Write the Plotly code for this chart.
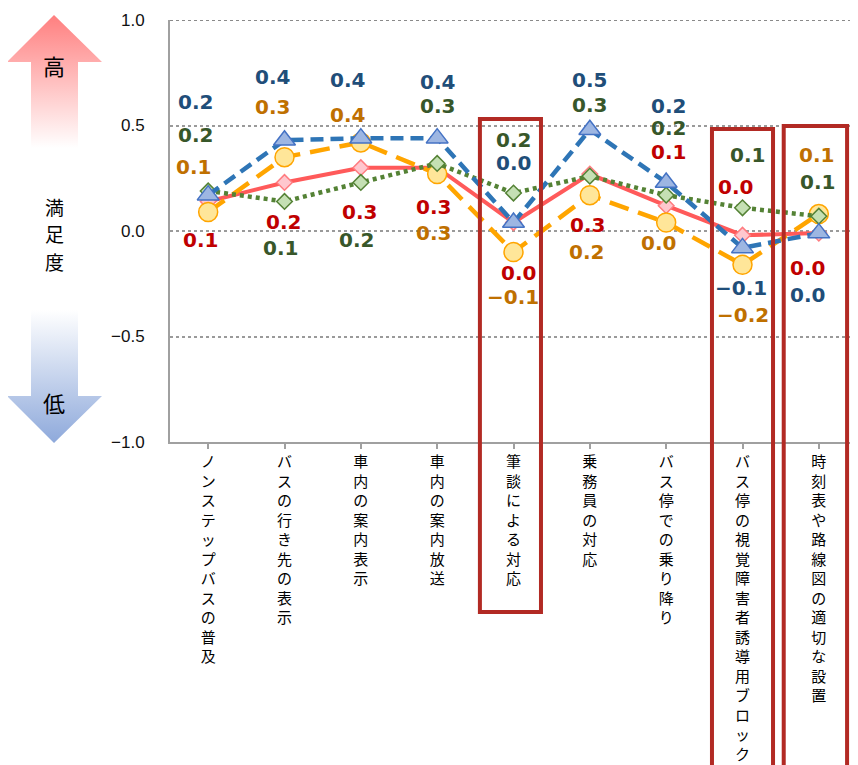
import plotly.graph_objects as go

# ---------------- data ----------------
categories = ["ノンステップバスの普及", "バスの行き先の表示", "車内の案内表示", "車内の案内放送",
              "筆談による対応", "乗務員の対応", "バス停での乗り降り",
              "バス停の視覚障害者誘導用ブロック", "時刻表や路線図の適切な設置"]
red_vals = [0.14, 0.23, 0.30, 0.30, 0.04, 0.27, 0.12, -0.02, -0.01]
blue_vals = [0.17, 0.43, 0.44, 0.44, 0.04, 0.48, 0.23, -0.08, -0.01]
orange_vals = [0.09, 0.35, 0.42, 0.27, -0.10, 0.17, 0.04, -0.16, 0.08]
green_vals = [0.19, 0.14, 0.23, 0.32, 0.18, 0.26, 0.17, 0.11, 0.07]
y_ticks = [-1.0, -0.5, 0.0, 0.5, 1.0]
highlighted = [4, 7, 8]

# ---------------- label placement (pixel offsets from each point) ----------------
red_lab_dx = [-8, -1, -1, -4, 5, -2, 2, -7, -11]
red_lab_dy = [39, 40, 44, 39, 50, 51, -54, -48, 35]
blue_lab_dx = [-13, -12, -13, 0, 0, 0, 2, -2, -11]
blue_lab_dy = [-93, -63, -58, -56, -60, -50, -76, 40, 62]
orange_lab_dx = [-15, -12, -13, -4, -1, -3, -8, 0, -2]
orange_lab_dy = [-45, -50, -27, 59, 45, 57, 20, 50, -59]
green_lab_dx = [-13, -4, -4, 0, 0, 0, 2, 5, -1]
green_lab_dy = [-56, 47, 58, -57, -53, -71, -67, -53, -34]

# window size and page offset (browser body margin)
WIN_W, WIN_H, OFF = 858, 765, 8
W, H = WIN_W - OFF, WIN_H - OFF
PLOT_L, PLOT_R, PLOT_T, PLOT_B = 170, 857, 20, 442   # window pixels


def px_x(x):
    return (x - OFF) / W


def px_y(y):
    return (WIN_H - y) / H


def fmt(v):
    s = f"{v:.1f}"
    if s == "-0.0":
        s = "0.0"
    return s.replace("-", "\u2212")


fig = go.Figure()

series = [
    dict(vals=red_vals, line=dict(color="#FF5A5A", width=4), dash="solid",
         marker=dict(symbol="diamond", size=12, color="#FFC7CE", line=dict(color="#FF7C80", width=1.5)),
         text_color="#C00000", dx=red_lab_dx, dy=red_lab_dy),
    dict(vals=orange_vals, line=dict(color="#FFA500", width=4.5), dash="20px,10px",
         marker=dict(symbol="circle", size=19, color="#FFE699", line=dict(color="#FFA500", width=1.5)),
         text_color="#BF7000", dx=orange_lab_dx, dy=orange_lab_dy),
    dict(vals=green_vals, line=dict(color="#548235", width=4.5), dash="4px,4px",
         marker=dict(symbol="diamond", size=12, color="#C5E0B4", line=dict(color="#548235", width=1.5)),
         text_color="#38572A", dx=green_lab_dx, dy=green_lab_dy),
    dict(vals=blue_vals, line=dict(color="#2E75B6", width=4.5), dash="13px,7px",
         marker=dict(symbol="triangle-up", size=19, color="#9DB6E2", line=dict(color="#4472C4", width=1.5)),
         text_color="#1F4E79", dx=blue_lab_dx, dy=blue_lab_dy),
]

x_idx = list(range(len(categories)))

for s in series:
    ln = dict(s["line"])
    ln["dash"] = s["dash"]
    fig.add_trace(go.Scatter(
        x=x_idx, y=s["vals"], mode="lines+markers",
        line=ln, marker=s["marker"], showlegend=False, hoverinfo="skip",
        cliponaxis=False,
    ))

annotations = []
for s in series:
    for i, v in enumerate(s["vals"]):
        annotations.append(dict(
            x=i, y=v, xref="x", yref="y", text=fmt(v), showarrow=False,
            xshift=s["dx"][i], yshift=-s["dy"][i],
            font=dict(family="DejaVu Sans", size=20, color=s["text_color"], weight="bold"),
        ))

# ---------------- left side arrows (decoration in window-pixel space) ----------------
fig.add_trace(go.Scatter(
    x=[54, 102, 78, 78, 31, 31, 7, 54], y=[15, 62, 62, 148, 148, 62, 62, 15],
    xaxis="x2", yaxis="y2", mode="lines", fill="toself",
    line=dict(width=0, color="rgba(0,0,0,0)"),
    fillgradient=dict(type="vertical", colorscale=[[0, "#FFFFFF"], [1, "#FF7F7F"]], start=148, stop=15),
    showlegend=False, hoverinfo="skip",
))
fig.add_trace(go.Scatter(
    x=[31, 78, 78, 102, 54, 7, 31, 31], y=[310, 310, 396, 396, 443, 396, 396, 310],
    xaxis="x2", yaxis="y2", mode="lines", fill="toself",
    line=dict(width=0, color="rgba(0,0,0,0)"),
    fillgradient=dict(type="vertical", colorscale=[[0, "#FFFFFF"], [1, "#8EA9DB"]], start=310, stop=443),
    showlegend=False, hoverinfo="skip",
))

cjk = "Noto Sans CJK JP"
annotations += [
    dict(x=54, y=65, xref="x2", yref="y2", text="高", showarrow=False,
         font=dict(family=cjk, size=22, color="#000000")),
    dict(x=54, y=206, xref="x2", yref="y2", text="満", showarrow=False,
         font=dict(family=cjk, size=19, color="#000000")),
    dict(x=54, y=233.5, xref="x2", yref="y2", text="足", showarrow=False,
         font=dict(family=cjk, size=19, color="#000000")),
    dict(x=54, y=261, xref="x2", yref="y2", text="度", showarrow=False,
         font=dict(family=cjk, size=19, color="#000000")),
    dict(x=54, y=402, xref="x2", yref="y2", text="低", showarrow=False,
         font=dict(family=cjk, size=22, color="#000000")),
]

# ---------------- highlight boxes ----------------
box_dx = [(-0.44, 0.36), (-0.40, 0.40), (-0.46, 0.37)]
box_top_px = [119, 129, 126]
box_bottom_px = [612, 772, 772]
shapes = []
for k, ci in enumerate(highlighted):
    shapes.append(dict(
        type="rect", xref="x", yref="paper",
        x0=ci + box_dx[k][0], x1=ci + box_dx[k][1],
        y0=px_y(box_bottom_px[k]), y1=px_y(box_top_px[k]),
        line=dict(color="#B22A24", width=4), fillcolor="rgba(0,0,0,0)", layer="above",
    ))
# top border line at 1.0
shapes.append(dict(type="line", xref="x domain", yref="y", x0=0, x1=1, y0=1.0, y1=1.0,
                   line=dict(color="#8A8A8A", width=2, dash="dot"), layer="below"))

tick_text = ["<br>".join(list(c)) for c in categories]

fig.update_layout(
    width=W, height=H,
    margin=dict(l=0, r=0, t=0, b=0),
    paper_bgcolor="white", plot_bgcolor="white",
    hovermode=False,
    annotations=annotations,
    shapes=shapes,
    xaxis=dict(
        domain=[px_x(PLOT_L), px_x(PLOT_R)],
        tickmode="array", tickvals=x_idx, ticktext=tick_text,
        range=[-0.5, len(categories) - 0.5],
        showline=True, linecolor="#A0A0A0", linewidth=2,
        ticks="outside", ticklen=5, tickcolor="#A0A0A0", tickwidth=1.5,
        showgrid=False, zeroline=False,
        tickfont=dict(family=cjk, size=15, color="#000000"),
        ticklabelstandoff=0,
        automargin=False, fixedrange=True,
    ),
    yaxis=dict(
        domain=[px_y(PLOT_B), px_y(PLOT_T)],
        range=[-1.0, 1.0], tickvals=y_ticks, tickformat=".1f",
        showline=True, linecolor="#A0A0A0", linewidth=2,
        showgrid=True, gridcolor="#9A9A9A", gridwidth=1.5, griddash="dot",
        zeroline=False, ticks="",
        tickfont=dict(family="Liberation Sans, Arial", size=17, color="#111111"),
        ticklabelstandoff=20,
        automargin=False, fixedrange=True,
    ),
    xaxis2=dict(domain=[0, px_x(PLOT_L)], range=[OFF, PLOT_L], visible=False, fixedrange=True),
    yaxis2=dict(domain=[0, 1], range=[WIN_H, OFF], anchor="x2", visible=False, fixedrange=True),
)

fig.write_html("out.html")
